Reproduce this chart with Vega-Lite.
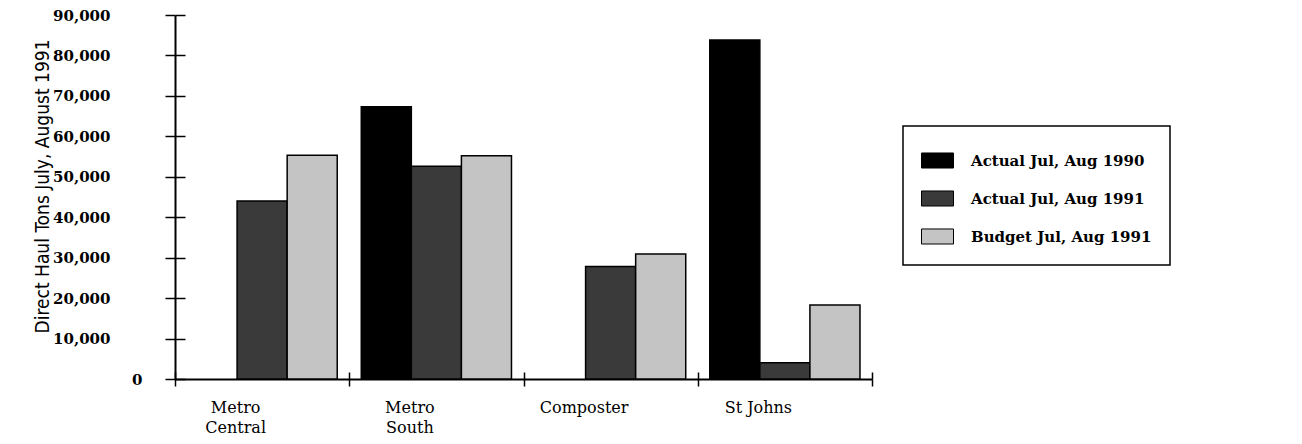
{
  "$schema": "https://vega.github.io/schema/vega-lite/v6.json",
  "width": 697,
  "height": 364,
  "autosize": {"type": "none"},
  "padding": {"left": 175, "top": 15, "right": 430, "bottom": 65},
  "background": "white",
  "config": {"view": {"stroke": null}, "font": "DejaVu Serif"},
  "data": {
    "values": [
      {"site": "Metro Central", "series": "Actual Jul, Aug 1991", "tons": 44000},
      {"site": "Metro Central", "series": "Budget Jul, Aug 1991", "tons": 55300},
      {"site": "Metro South", "series": "Actual Jul, Aug 1990", "tons": 67300},
      {"site": "Metro South", "series": "Actual Jul, Aug 1991", "tons": 52600},
      {"site": "Metro South", "series": "Budget Jul, Aug 1991", "tons": 55200},
      {"site": "Composter", "series": "Actual Jul, Aug 1991", "tons": 27800},
      {"site": "Composter", "series": "Budget Jul, Aug 1991", "tons": 30900},
      {"site": "St Johns", "series": "Actual Jul, Aug 1990", "tons": 83800},
      {"site": "St Johns", "series": "Actual Jul, Aug 1991", "tons": 4000},
      {"site": "St Johns", "series": "Budget Jul, Aug 1991", "tons": 18300}
    ]
  },
  "resolve": {"axis": {"x": "independent", "y": "independent"}},
  "layer": [
    {
      "mark": {"type": "bar", "stroke": "black", "strokeWidth": 1.5},
      "encoding": {
        "x": {
          "field": "site", "type": "nominal",
          "sort": ["Metro Central", "Metro South", "Composter", "St Johns"],
          "scale": {"paddingInner": 0, "paddingOuter": 0},
          "axis": {
            "title": null, "orient": "bottom", "labelAngle": 0, "tickBand": "extent",
            "tickSize": 7, "tickWidth": 1.5, "tickColor": "black",
            "domainColor": "black", "domainWidth": 2,
            "labelFont": "DejaVu Serif", "labelFontSize": 16, "labelColor": "black",
            "labelPadding": 13, "labelOffset": -27, "labelLineHeight": 20, "labelBaseline": "top",
            "labelExpr": "!isValid(datum.value) ? '' : (datum.value == 'St Johns' ? datum.value : split(datum.value, ' '))"
          }
        },
        "xOffset": {
          "field": "series", "type": "nominal",
          "sort": ["Actual Jul, Aug 1990", "Actual Jul, Aug 1991", "Budget Jul, Aug 1991"],
          "scale": {"domain": ["Actual Jul, Aug 1990", "Actual Jul, Aug 1991", "Budget Jul, Aug 1991"], "paddingOuter": 0.24, "paddingInner": 0}
        },
        "y": {
          "field": "tons", "type": "quantitative",
          "scale": {"domain": [0, 90000], "nice": false},
          "axis": {
            "orient": "left", "values": [0, 10000, 20000, 30000, 40000, 50000, 60000, 70000, 80000, 90000],
            "format": ",d", "grid": false,
            "tickSize": 10, "tickWidth": 1.5, "tickColor": "black",
            "domainColor": "black", "domainWidth": 2,
            "labelFont": "DejaVu Serif", "labelFontSize": 15, "labelFontWeight": "bold", "labelColor": "black",
            "labelPadding": {"condition": {"test": "datum.value == 0", "value": 23}, "value": 55},
            "title": "Direct Haul Tons July, August 1991",
            "titleFont": "DejaVu Sans Condensed",
            "titleFontSize": 19, "titleFontWeight": "normal", "titleColor": "black",
            "titleX": -133, "titleY": 171, "titleBaseline": "middle", "titleAlign": "center"
          }
        },
        "color": {
          "field": "series", "type": "nominal",
          "scale": {"domain": ["Actual Jul, Aug 1990", "Actual Jul, Aug 1991", "Budget Jul, Aug 1991"], "range": ["#000000", "#3a3a3a", "#c4c4c4"]},
          "legend": {
            "title": null, "orient": "none", "legendX": 728, "legendY": 111, "direction": "vertical",
            "strokeColor": "black", "fillColor": "white", "padding": 18,
            "symbolType": "M-1,-0.47H1V0.47H-1Z", "symbolSize": 1024,
            "symbolStrokeColor": "black", "symbolStrokeWidth": 1, "symbolOpacity": 1,
            "labelFont": "DejaVu Serif", "labelFontSize": 15, "labelFontWeight": "bold", "labelColor": "black",
            "labelOffset": 17, "rowPadding": 11, "labelLimit": 400,
            "labelExpr": "datum.label + '\u00a0\u00a0\u00a0\u00a0\u00a0\u00a0'",
            "encode": {
              "legend": {"update": {"strokeWidth": {"value": 1.5}}}
            }
          }
        }
      }
    },
    {
      "mark": {"type": "bar", "opacity": 0},
      "encoding": {
        "x": {
          "field": "site", "type": "nominal",
          "sort": ["Metro Central", "Metro South", "Composter", "St Johns"],
          "axis": {"title": null, "orient": "bottom", "labels": false, "domain": false, "tickBand": "extent", "tickSize": -7, "tickWidth": 1.5, "tickColor": "black"}
        },
        "y": {
          "field": "tons", "type": "quantitative",
          "axis": {"title": null, "orient": "left", "labels": false, "domain": false, "grid": false,
            "values": [0, 10000, 20000, 30000, 40000, 50000, 60000, 70000, 80000, 90000],
            "tickSize": -10, "tickWidth": 1.5, "tickColor": "black"}
        }
      }
    }
  ]
}
